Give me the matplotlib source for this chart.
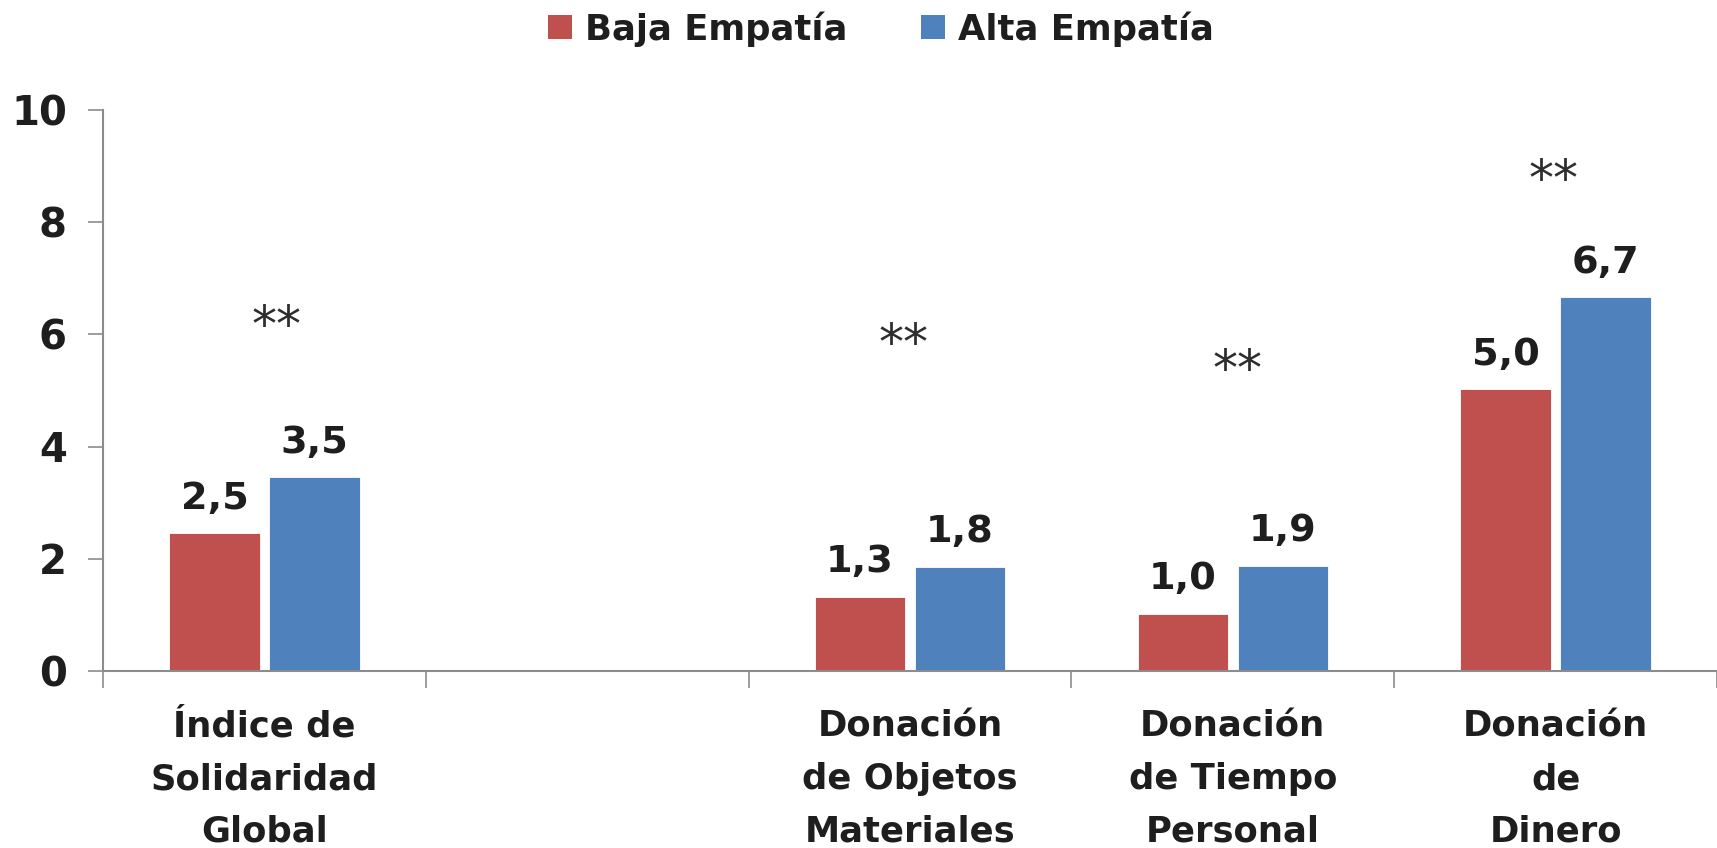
"""Bar chart: solidaridad y donaciones segun nivel de empatia"""

import numpy as np
import matplotlib.pyplot as plt
from matplotlib.patches import Patch

# data
CATEGORIES = ['Índice de\nSolidaridad\nGlobal', '', 'Donación\nde Objetos\nMateriales',
              'Donación\nde Tiempo\nPersonal', 'Donación\nde\nDinero']
BAJA = [2.45, np.nan, 1.32, 1.01, 5.02]
ALTA = [3.45, np.nan, 1.85, 1.87, 6.66]
BAJA_LABELS = ['2,5', '', '1,3', '1,0', '5,0']
ALTA_LABELS = ['3,5', '', '1,8', '1,9', '6,7']
SIG = ['**', '', '**', '**', '**']
SIG_Y = [6.14, np.nan, 5.81, 5.35, 8.73]
SIG_DX = [0.036, 0, -0.02, 0.015, -0.005]
YTICKS = [0, 2, 4, 6, 8, 10]

RED = '#C0504D'
BLUE = '#4F81BD'
AXIS = '#8C8C8C'
TEXT = '#1E1E1E'

plt.rcParams['font.family'] = ['DejaVu Sans']
plt.rcParams['font.weight'] = 'bold'

fig = plt.figure(figsize=(17.17, 8.48), dpi=100)
ax = fig.add_axes([0.060, 0.209, 0.940, 0.661])

x = np.arange(len(CATEGORIES))
w = 0.28
off = 0.155
bars_b = ax.bar(x - off, BAJA, w, color=RED, edgecolor='white', linewidth=0.6)
bars_a = ax.bar(x + off, ALTA, w, color=BLUE, edgecolor='white', linewidth=0.6)

# value labels on top of bars
for bars, labels in [(bars_b, BAJA_LABELS), (bars_a, ALTA_LABELS)]:
    for b, lab in zip(bars, labels):
        if not lab:
            continue
        ax.annotate(lab, (b.get_x() + b.get_width() / 2, b.get_height()),
                    xytext=(0, 12), textcoords='offset points',
                    ha='center', va='bottom', fontsize=27.5, fontweight='bold', color=TEXT)

# significance stars
for i, s in enumerate(SIG):
    if s:
        ax.text(x[i] + SIG_DX[i], SIG_Y[i], s, ha='center', va='center',
                fontsize=36, fontweight='normal', color='#2e2e2e')

ax.set_xlim(-0.5, len(CATEGORIES) - 0.5)
ax.set_ylim(0, 10)
ax.set_yticks(YTICKS)
ax.set_yticklabels([str(t) for t in YTICKS])
ax.set_xticks(x)
ax.set_xticklabels(CATEGORIES, fontsize=25.5, fontweight='bold', color=TEXT, linespacing=1.68)
ax.set_xticks(np.arange(-0.5, len(CATEGORIES)), minor=True)

ax.tick_params(axis='x', which='major', length=0, pad=28)
ax.tick_params(axis='x', which='minor', length=12, width=1.2, color=AXIS, direction='out')
ax.tick_params(axis='y', length=11, width=1.2, color=AXIS, pad=15, labelsize=29, labelcolor=TEXT)
for lab in ax.get_yticklabels():
    lab.set_fontweight('bold')

for side in ['top', 'right']:
    ax.spines[side].set_visible(False)
for side in ['left', 'bottom']:
    ax.spines[side].set_color(AXIS)
    ax.spines[side].set_linewidth(1.5)

handles = [Patch(facecolor=RED, label='Baja Empatía'), Patch(facecolor=BLUE, label='Alta Empatía')]
fig.legend(handles=handles, loc='center', bbox_to_anchor=(0.513, 0.966), ncol=2, frameon=False,
           prop={'size': 25.5, 'weight': 'bold'}, handlelength=0.68, handleheight=0.68,
           handletextpad=0.35, columnspacing=2.1, labelcolor=TEXT)

fig.savefig('out.png', dpi=100)
